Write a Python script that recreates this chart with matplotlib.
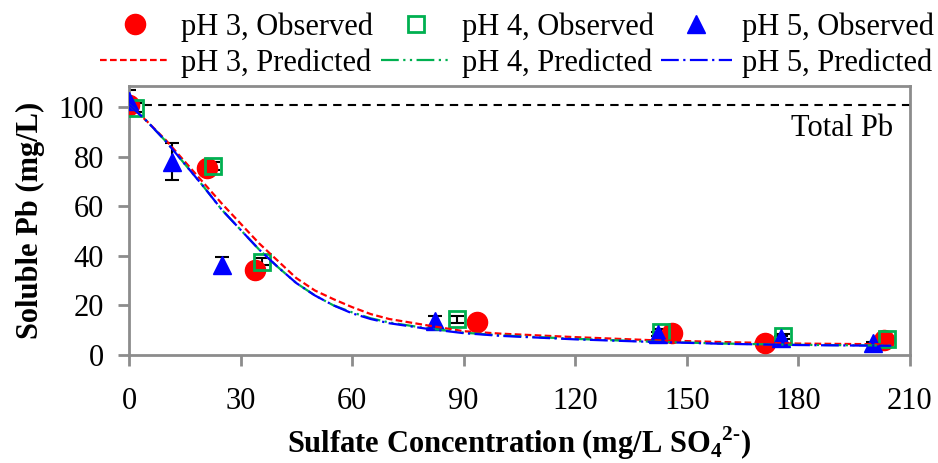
import matplotlib.pyplot as plt

# observed data (x = sulfate mg/L, y = soluble Pb mg/L)
ph3_x = [0, 21, 34, 93.7, 145.9, 171.1, 203]
ph3_y = [100.8, 75.3, 34.3, 13.4, 9.0, 4.8, 6.0]

ph4_x = [1.6, 22.7, 35.9, 88.1, 143.2, 176, 203.9]
ph4_y = [99.7, 76.2, 37.6, 14.4, 9.4, 7.6, 6.5]
ph4_err = [1.8, 1.5, 1.5, 1.5, 1.0, 1.0, 0.5]

ph5_x = [0, 11.5, 24.9, 82.3, 142.3, 175.3, 200.2]
ph5_y = [102.4, 78, 36.3, 13.6, 8.4, 6.8, 4.8]
ph5_err = [4.5, 7.3, 3.3, 2.0, 0.8, 0.8, 0.5]

# predicted curves
pred_x = [0, 5, 10, 15, 20, 25, 30, 35, 40, 45, 50, 55, 60, 65, 70, 80, 90, 100, 120, 140, 160, 180, 205]
pred3 = [101, 94, 86.5, 78, 69.5, 61, 53, 45, 38, 31, 26, 22.5, 19.3, 16.5, 14.5, 12.0, 9.6, 8.6, 7.2, 6.0, 5.2, 4.6, 4.3]
pred4 = [101, 94, 86, 77, 68, 58.5, 50.5, 42.5, 35.5, 29, 24, 20, 17.2, 14.8, 13.1, 10.8, 9.0, 7.9, 6.5, 5.4, 4.6, 4.1, 3.8]
pred5 = [101, 94, 86, 77, 68, 58.5, 50.5, 42.5, 35.5, 29, 24, 20, 16.8, 14.5, 12.8, 10.6, 8.8, 7.7, 6.3, 5.3, 4.5, 4.0, 3.7]

total_pb = 100.6

plt.rcParams['font.family'] = ['Liberation Serif', 'DejaVu Serif']
plt.rcParams['mathtext.fontset'] = 'custom'
plt.rcParams['mathtext.rm'] = 'Liberation Serif'
plt.rcParams['mathtext.bf'] = 'Liberation Serif:bold'
spine_col = '#8c8c8c'

fig = plt.figure(figsize=(9.38, 4.63), dpi=100)
ax = fig.add_axes([0.1375, 0.2333, 0.8325, 0.5812])

# error bars
ax.errorbar(ph4_x, ph4_y, yerr=ph4_err, fmt='none', ecolor='black', elinewidth=1.5, capsize=5, capthick=1.5, zorder=2)
ax.errorbar(ph5_x, ph5_y, yerr=ph5_err, fmt='none', ecolor='black', elinewidth=1.5, capsize=5, capthick=1.5, zorder=2)

# observed points
h1, = ax.plot(ph3_x, ph3_y, 'o', color='#ff0000', ms=14.5, ls='none', label='pH 3, Observed', zorder=3)
h2, = ax.plot(ph4_x, ph4_y, 's', mfc='none', mec='#00b050', mew=2, ms=11, ls='none', label='pH 4, Observed', zorder=4)
h3, = ax.plot(ph5_x, ph5_y, '^', color='#0000ff', ms=13, ls='none', label='pH 5, Observed', zorder=5)

# predicted curves
h4, = ax.plot(pred_x, pred3, color='#ff0000', lw=1.6, ls=(0, (3, 1.5)), label='pH 3, Predicted', zorder=6)
h5, = ax.plot(pred_x, pred4, color='#00b050', lw=1.6, ls=(0, (8, 2, 1, 2, 1, 2)), label='pH 4, Predicted', zorder=6)
h6, = ax.plot(pred_x, pred5, color='#0000ff', lw=1.6, ls=(0, (8, 2, 1, 2)), label='pH 5, Predicted', zorder=6)

# total Pb line
ax.axhline(total_pb, color='black', lw=1.5, ls=(0, (4, 3)), zorder=1)
ax.text(205.4, 91.5, 'Total Pb', ha='right', va='center', fontsize=22)

ax.set_xlim(0, 210)
ax.set_ylim(0, 108.5)
ax.set_xticks(range(0, 211, 30))
ax.set_yticks(range(0, 101, 20))
ax.tick_params(axis='both', labelsize=22, color=spine_col, width=2, length=8, direction='out')
ax.tick_params(axis='x', pad=15)
ax.tick_params(axis='y', pad=10)
for s in ax.spines.values():
    s.set_color(spine_col)
    s.set_linewidth(2)

ax.set_xlabel('Sulfate Concentration (mg/L SO$_\\mathbf{4}$$^\\mathbf{2\\text{-}}$)', fontsize=22, fontweight='bold', labelpad=6)
ax.set_ylabel('Soluble Pb (mg/L)', fontsize=22, fontweight='bold', labelpad=10)

order = [h1, h4, h2, h5, h3, h6]
fig.legend(order, [h.get_label() for h in order],
           ncol=3, loc='upper left', bbox_to_anchor=(100 / 938, 1 - 12 / 463), frameon=False,
           borderpad=0, borderaxespad=0, fontsize=22, handlelength=2.3, columnspacing=0.25,
           handletextpad=0.35, labelspacing=0.22)

fig.savefig('out.png', dpi=100)
